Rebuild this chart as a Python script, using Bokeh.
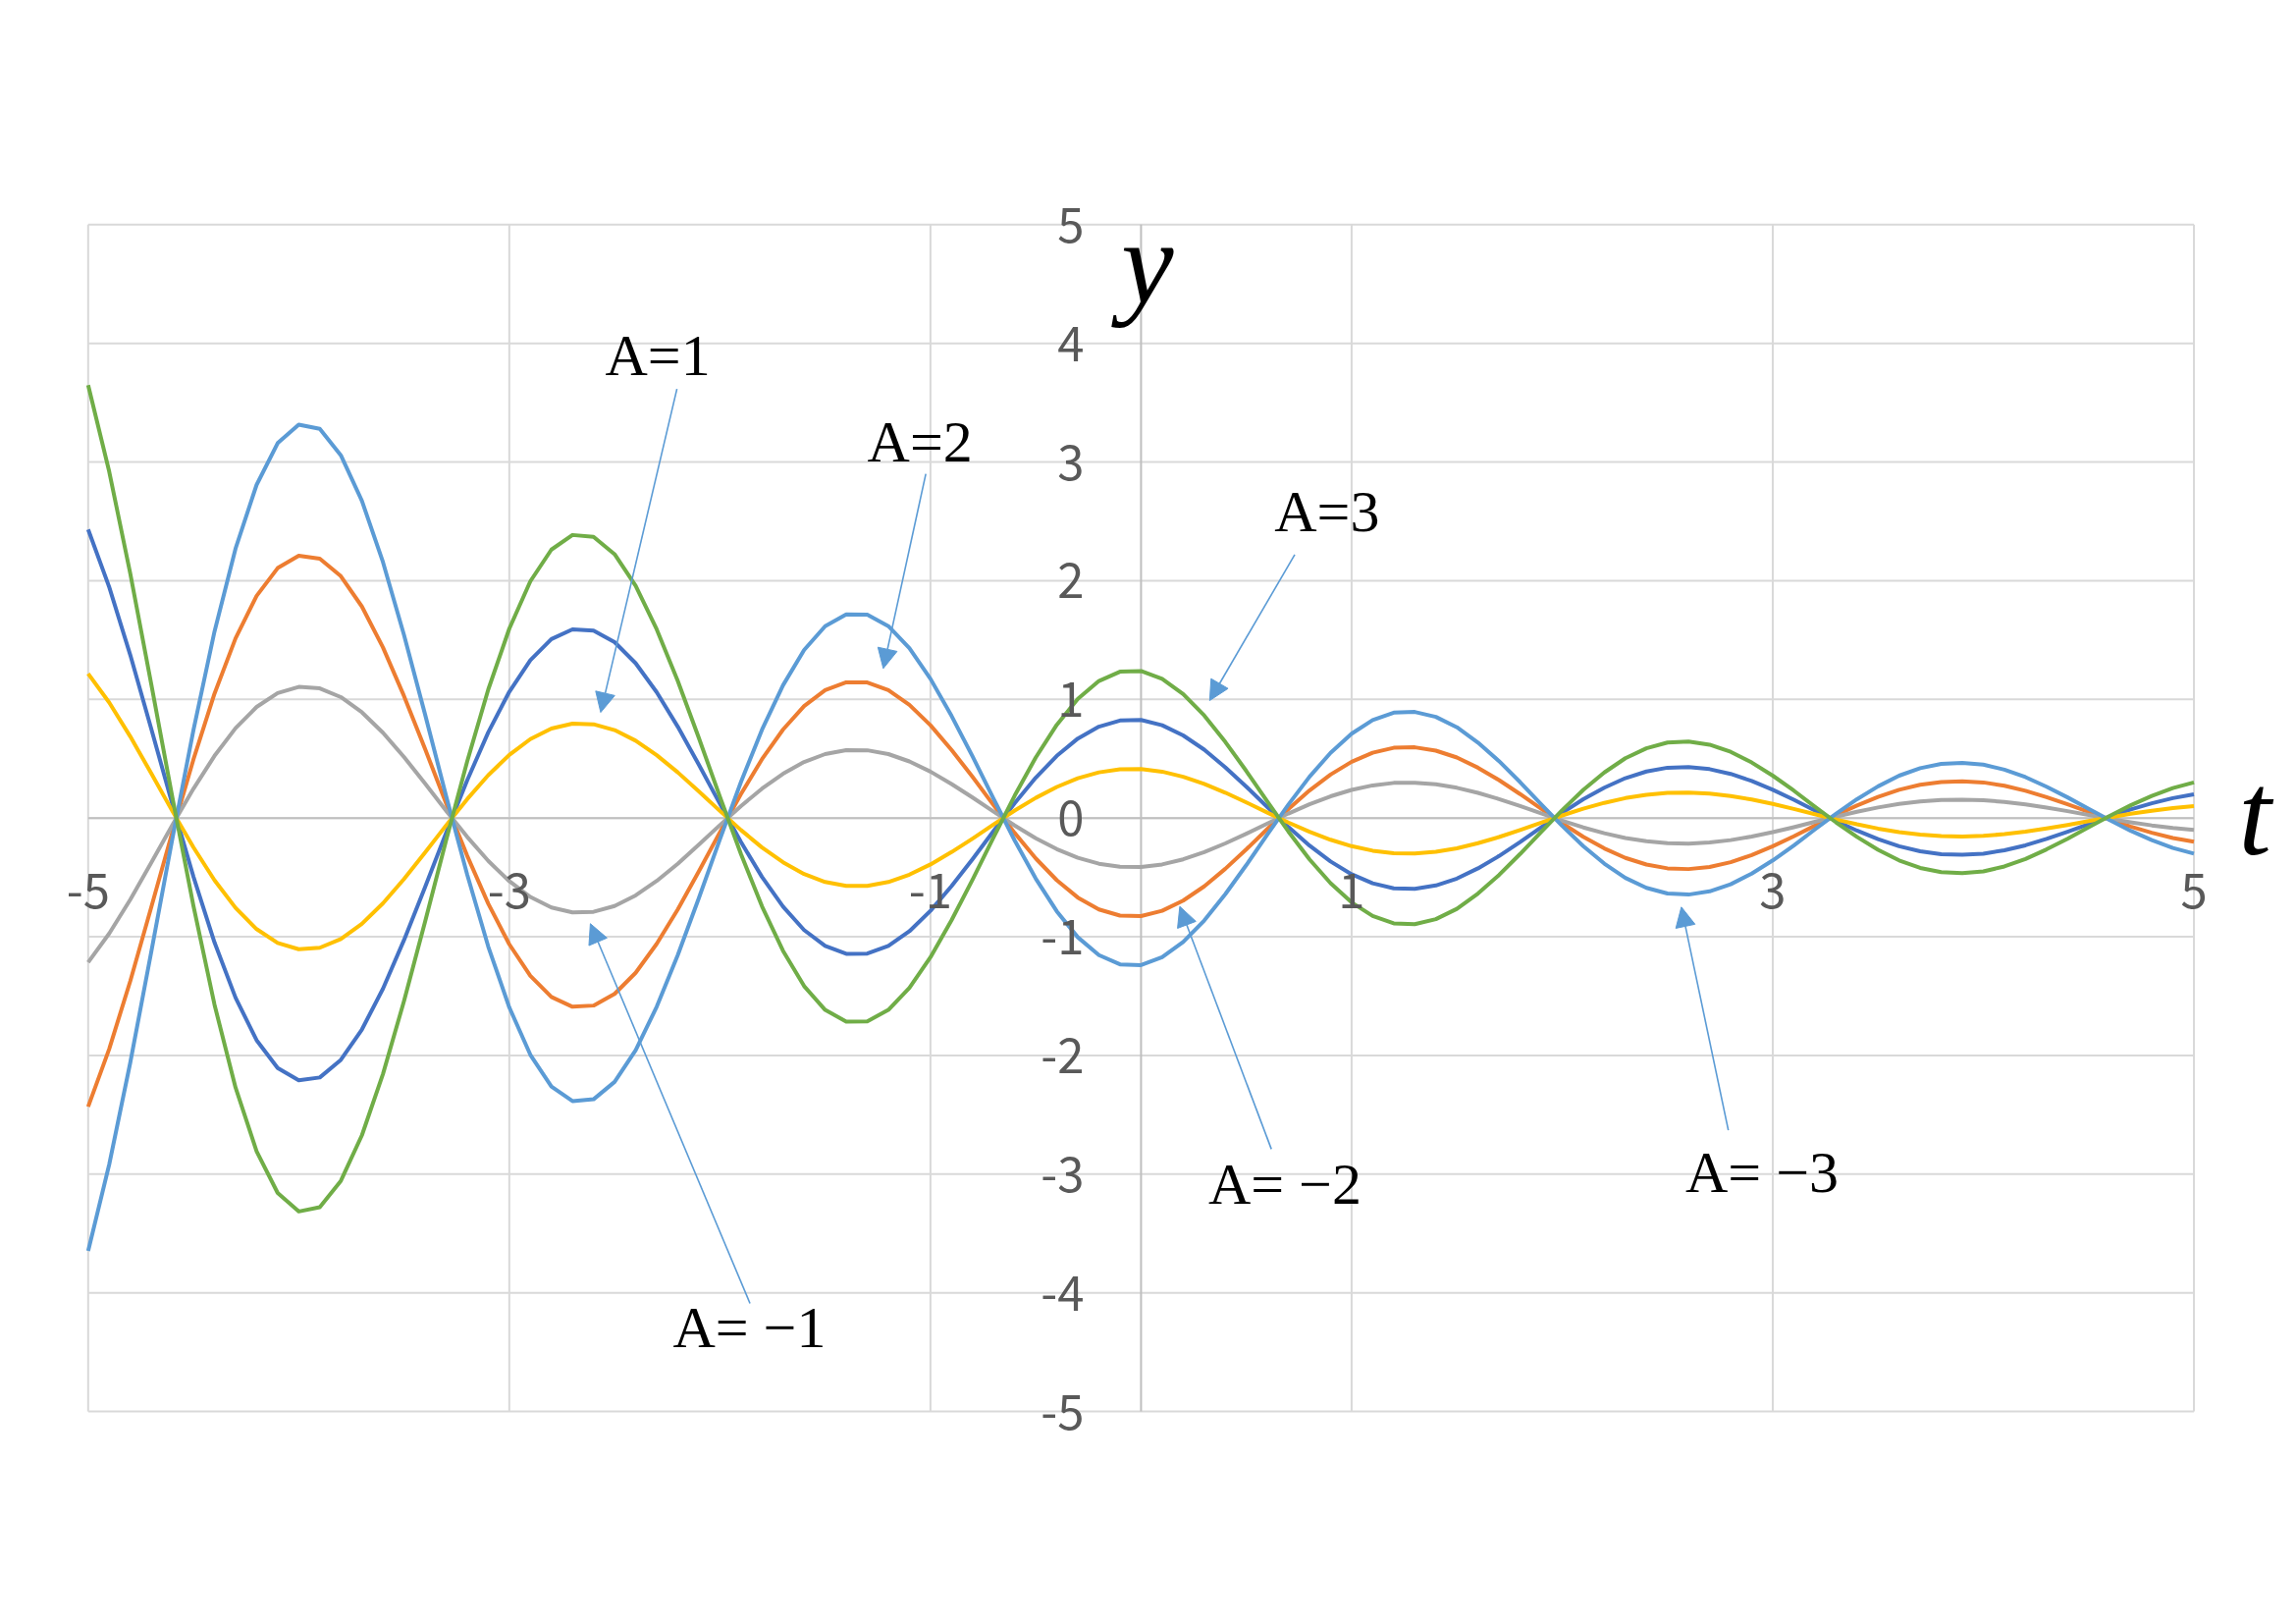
from bokeh.plotting import figure
from bokeh.models import (Range1d, Label, LabelSet, ColumnDataSource, Arrow, NormalHead)
from bokeh.core.properties import value
from bokeh.embed import file_html
from bokeh.resources import INLINE

# ---------------- data ----------------
t = [round(-5 + i / 10, 1) for i in range(101)]

y_a2 = [2.432, 1.946, 1.374, 0.750, 0.116, -0.494, -1.048, -1.514, -1.872, -2.106,
        -2.210, -2.186, -2.038, -1.782, -1.438, -1.028, -0.582, -0.124, 0.318, 0.722,
        1.064, 1.330, 1.508, 1.590, 1.580, 1.482, 1.304, 1.060, 0.770, 0.450,
        0.120, -0.202, -0.496, -0.746, -0.944, -1.078, -1.144, -1.142, -1.078, -0.954,
        -0.782, -0.574, -0.346, -0.108, 0.126, 0.340, 0.524, 0.670, 0.770, 0.822,
        0.826, 0.782, 0.696, 0.576, 0.428, 0.264, 0.092, -0.076, -0.232, -0.366,
        -0.474, -0.550, -0.592, -0.596, -0.568, -0.510, -0.424, -0.320, -0.202, -0.078,
        0.044, 0.158, 0.256, 0.336, 0.392, 0.424, 0.430, 0.412, 0.372, 0.312,
        0.238, 0.154, 0.064, -0.024, -0.106, -0.178, -0.238, -0.280, -0.304, -0.310,
        -0.300, -0.272, -0.230, -0.176, -0.116, -0.052, 0.012, 0.072, 0.124, 0.168,
        0.200]

y_am2 = [-2.432, -1.946, -1.374, -0.750, -0.116, 0.494, 1.048, 1.514, 1.872, 2.106,
         2.210, 2.186, 2.038, 1.782, 1.438, 1.028, 0.582, 0.124, -0.318, -0.722,
         -1.064, -1.330, -1.508, -1.590, -1.580, -1.482, -1.304, -1.060, -0.770, -0.450,
         -0.120, 0.202, 0.496, 0.746, 0.944, 1.078, 1.144, 1.142, 1.078, 0.954,
         0.782, 0.574, 0.346, 0.108, -0.126, -0.340, -0.524, -0.670, -0.770, -0.822,
         -0.826, -0.782, -0.696, -0.576, -0.428, -0.264, -0.092, 0.076, 0.232, 0.366,
         0.474, 0.550, 0.592, 0.596, 0.568, 0.510, 0.424, 0.320, 0.202, 0.078,
         -0.044, -0.158, -0.256, -0.336, -0.392, -0.424, -0.430, -0.412, -0.372, -0.312,
         -0.238, -0.154, -0.064, 0.024, 0.106, 0.178, 0.238, 0.280, 0.304, 0.310,
         0.300, 0.272, 0.230, 0.176, 0.116, 0.052, -0.012, -0.072, -0.124, -0.168,
         -0.200]

y_am1 = [-1.216, -0.973, -0.687, -0.375, -0.058, 0.247, 0.524, 0.757, 0.936, 1.053,
         1.105, 1.093, 1.019, 0.891, 0.719, 0.514, 0.291, 0.062, -0.159, -0.361,
         -0.532, -0.665, -0.754, -0.795, -0.790, -0.741, -0.652, -0.530, -0.385, -0.225,
         -0.060, 0.101, 0.248, 0.373, 0.472, 0.539, 0.572, 0.571, 0.539, 0.477,
         0.391, 0.287, 0.173, 0.054, -0.063, -0.170, -0.262, -0.335, -0.385, -0.411,
         -0.413, -0.391, -0.348, -0.288, -0.214, -0.132, -0.046, 0.038, 0.116, 0.183,
         0.237, 0.275, 0.296, 0.298, 0.284, 0.255, 0.212, 0.160, 0.101, 0.039,
         -0.022, -0.079, -0.128, -0.168, -0.196, -0.212, -0.215, -0.206, -0.186, -0.156,
         -0.119, -0.077, -0.032, 0.012, 0.053, 0.089, 0.119, 0.140, 0.152, 0.155,
         0.150, 0.136, 0.115, 0.088, 0.058, 0.026, -0.006, -0.036, -0.062, -0.084,
         -0.100]

y_a1 = [1.216, 0.973, 0.687, 0.375, 0.058, -0.247, -0.524, -0.757, -0.936, -1.053,
        -1.105, -1.093, -1.019, -0.891, -0.719, -0.514, -0.291, -0.062, 0.159, 0.361,
        0.532, 0.665, 0.754, 0.795, 0.790, 0.741, 0.652, 0.530, 0.385, 0.225,
        0.060, -0.101, -0.248, -0.373, -0.472, -0.539, -0.572, -0.571, -0.539, -0.477,
        -0.391, -0.287, -0.173, -0.054, 0.063, 0.170, 0.262, 0.335, 0.385, 0.411,
        0.413, 0.391, 0.348, 0.288, 0.214, 0.132, 0.046, -0.038, -0.116, -0.183,
        -0.237, -0.275, -0.296, -0.298, -0.284, -0.255, -0.212, -0.160, -0.101, -0.039,
        0.022, 0.079, 0.128, 0.168, 0.196, 0.212, 0.215, 0.206, 0.186, 0.156,
        0.119, 0.077, 0.032, -0.012, -0.053, -0.089, -0.119, -0.140, -0.152, -0.155,
        -0.150, -0.136, -0.115, -0.088, -0.058, -0.026, 0.006, 0.036, 0.062, 0.084,
        0.100]

y_am3 = [-3.648, -2.919, -2.061, -1.125, -0.174, 0.741, 1.572, 2.271, 2.808, 3.159,
         3.315, 3.279, 3.057, 2.673, 2.157, 1.542, 0.873, 0.186, -0.477, -1.083,
         -1.596, -1.995, -2.262, -2.385, -2.370, -2.223, -1.956, -1.590, -1.155, -0.675,
         -0.180, 0.303, 0.744, 1.119, 1.416, 1.617, 1.716, 1.713, 1.617, 1.431,
         1.173, 0.861, 0.519, 0.162, -0.189, -0.510, -0.786, -1.005, -1.155, -1.233,
         -1.239, -1.173, -1.044, -0.864, -0.642, -0.396, -0.138, 0.114, 0.348, 0.549,
         0.711, 0.825, 0.888, 0.894, 0.852, 0.765, 0.636, 0.480, 0.303, 0.117,
         -0.066, -0.237, -0.384, -0.504, -0.588, -0.636, -0.645, -0.618, -0.558, -0.468,
         -0.357, -0.231, -0.096, 0.036, 0.159, 0.267, 0.357, 0.420, 0.456, 0.465,
         0.450, 0.408, 0.345, 0.264, 0.174, 0.078, -0.018, -0.108, -0.186, -0.252,
         -0.300]

y_a3 = [3.648, 2.919, 2.061, 1.125, 0.174, -0.741, -1.572, -2.271, -2.808, -3.159,
        -3.315, -3.279, -3.057, -2.673, -2.157, -1.542, -0.873, -0.186, 0.477, 1.083,
        1.596, 1.995, 2.262, 2.385, 2.370, 2.223, 1.956, 1.590, 1.155, 0.675,
        0.180, -0.303, -0.744, -1.119, -1.416, -1.617, -1.716, -1.713, -1.617, -1.431,
        -1.173, -0.861, -0.519, -0.162, 0.189, 0.510, 0.786, 1.005, 1.155, 1.233,
        1.239, 1.173, 1.044, 0.864, 0.642, 0.396, 0.138, -0.114, -0.348, -0.549,
        -0.711, -0.825, -0.888, -0.894, -0.852, -0.765, -0.636, -0.480, -0.303, -0.117,
        0.066, 0.237, 0.384, 0.504, 0.588, 0.636, 0.645, 0.618, 0.558, 0.468,
        0.357, 0.231, 0.096, -0.036, -0.159, -0.267, -0.357, -0.420, -0.456, -0.465,
        -0.450, -0.408, -0.345, -0.264, -0.174, -0.078, 0.018, 0.108, 0.186, 0.252,
        0.300]

x_ticks = [-5, -3, -1, 1, 3, 5]
x_tick_labels = ["-5", "-3", "-1", "1", "3", "5"]
y_ticks = [-5, -4, -3, -2, -1, 0, 1, 2, 3, 4, 5]
y_tick_labels = ["-5", "-4", "-3", "-2", "-1", "0", "1", "2", "3", "4", "5"]

annotation_texts = ["A=1", "A=2", "A=3", "A= \u22121", "A= \u22122", "A= \u22123"]

# ---------------- layout / style ----------------
X_MIN, X_MAX = -5, 5
Y_MIN, Y_MAX = -5, 5

series = [
    (y_a2, "#4472C4"),
    (y_am2, "#ED7D31"),
    (y_am1, "#A5A5A5"),
    (y_a1, "#FFC000"),
    (y_am3, "#5B9BD5"),
    (y_a3, "#70AD47"),
]

p = figure(width=2336, height=1650, output_backend="svg", toolbar_location=None,
           x_range=Range1d(-5.4163, 5.4731), y_range=Range1d(-6.7622, 6.8888),
           x_axis_type=None, y_axis_type=None,
           min_border_left=0, min_border_right=0,
           min_border_top=0, min_border_bottom=0)
p.background_fill_color = "white"
p.border_fill_color = "white"
p.outline_line_color = None
p.grid.visible = False

GRID = "#D9D9D9"
AXIS = "#BFBFBF"

# grid lines limited to the plot area
p.segment(x0=x_ticks, y0=[Y_MIN] * len(x_ticks), x1=x_ticks, y1=[Y_MAX] * len(x_ticks),
          line_color=GRID, line_width=2)
p.segment(x0=[X_MIN] * len(y_ticks), y0=y_ticks, x1=[X_MAX] * len(y_ticks), y1=y_ticks,
          line_color=GRID, line_width=2)
# axis lines crossing at the origin
p.segment(x0=[X_MIN, 0], y0=[0, Y_MIN], x1=[X_MAX, 0], y1=[0, Y_MAX],
          line_color=AXIS, line_width=2)

for ys, col in series:
    p.line(t, ys, line_color=col, line_width=4, line_join="round")

# tick labels
tick_font = value("Noto Sans CJK JP")
xsrc = ColumnDataSource(dict(x=x_ticks, y=[-0.612] * len(x_ticks), text=x_tick_labels))
p.add_layout(LabelSet(x="x", y="y", text="text", source=xsrc, text_font=tick_font,
                      text_font_size="49px", text_color="#595959",
                      text_align="center", text_baseline="middle"))
ysrc = ColumnDataSource(dict(x=[-0.27] * len(y_ticks), y=y_ticks, text=y_tick_labels))
p.add_layout(LabelSet(x="x", y="y", text="text", source=ysrc, text_font=tick_font,
                      text_font_size="49px", text_color="#595959",
                      text_align="right", text_baseline="middle"))

# axis titles
p.add_layout(Label(x=0.03, y=4.68, text="y", text_font="Liberation Serif",
                   text_font_style="italic", text_font_size="120px",
                   text_color="black", text_align="center", text_baseline="middle"))
p.add_layout(Label(x=5.29, y=0.03, text="t", text_font="Liberation Serif",
                   text_font_style="italic", text_font_size="120px",
                   text_color="black", text_align="center", text_baseline="middle"))

# annotations: label positions and arrows
label_pos = [(-2.295, 3.90), (-1.050, 3.166), (0.883, 2.58),
             (-1.860, -4.289), (0.683, -3.085), (2.949, -2.985)]
arrows = [((-2.204, 3.616), (-2.566, 0.89)),
          ((-1.022, 2.90), (-1.224, 1.26)),
          ((0.730, 2.22), (0.326, 0.99)),
          ((-1.857, -4.09), (-2.615, -0.89)),
          ((0.619, -2.79), (0.184, -0.745)),
          ((2.789, -2.63), (2.566, -0.75))]

for txt, (lx, ly) in zip(annotation_texts, label_pos):
    p.add_layout(Label(x=lx, y=ly, text=txt, text_font="Liberation Serif",
                       text_font_size="60px", text_color="black",
                       text_align="center", text_baseline="middle"))

for (xs, ys), (xe, ye) in arrows:
    p.add_layout(Arrow(end=NormalHead(size=20, fill_color="#5B9BD5",
                                      line_color="#5B9BD5", line_width=1),
                       x_start=xs, y_start=ys, x_end=xe, y_end=ye,
                       line_color="#5B9BD5", line_width=1.6))

open("out.html", "w").write(file_html(p, INLINE))
